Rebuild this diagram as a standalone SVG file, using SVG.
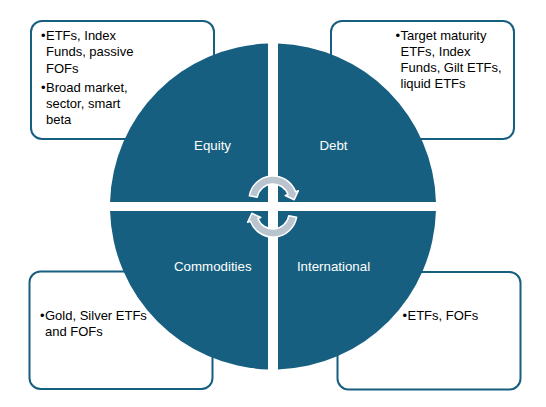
<svg xmlns="http://www.w3.org/2000/svg" xmlns:xlink="http://www.w3.org/1999/xlink" width="546" height="407" viewBox="0 0 546 407">
<style>
.box{fill:#fff;stroke:#175F80;stroke-width:2}
.quad{fill:#175F80}
.lbl{font-family:"Liberation Sans",Arial,sans-serif;font-size:13.3px;fill:#fff;text-anchor:middle}
.txt{font-family:"Liberation Sans",Arial,sans-serif;font-size:13px;fill:#000}
.arrow{fill:#B9C4CF;stroke:#fff;stroke-width:1.5;stroke-linejoin:round}
</style>
<defs>
<path id="cyc" class="arrow" d="M249.36,195.83 A24,24 0 0 1 295.55,191.79 L298.37,190.77 L294.18,199.74 L285.22,195.55 L288.04,194.53 A16,16 0 0 0 257.24,197.22 Z"/>
</defs>
<rect width="546" height="407" fill="#fff"/>
<g id="box-equity">
<rect class="box" x="31" y="21" width="183" height="118" rx="11"/>
<text class="txt"><tspan x="41" y="40">•</tspan><tspan x="46" y="40">ETFs, Index</tspan><tspan x="46" y="56.4">Funds, passive</tspan><tspan x="46" y="72.7">FOFs</tspan></text>
<text class="txt"><tspan x="41" y="91.6">•</tspan><tspan x="46" y="91.6">Broad market,</tspan><tspan x="46" y="107.8">sector, smart</tspan><tspan x="46" y="124">beta</tspan></text>
</g>
<g id="box-debt">
<rect class="box" x="331" y="21" width="183" height="118" rx="11"/>
<text class="txt"><tspan x="395.5" y="39.5">•</tspan><tspan x="400.5" y="39.5">Target maturity</tspan><tspan x="400.5" y="55.8">ETFs, Index</tspan><tspan x="400.5" y="72.1">Funds, Gilt ETFs,</tspan><tspan x="400.5" y="88.4">liquid ETFs</tspan></text>
</g>
<g id="box-commodities">
<rect class="box" x="29.5" y="271.5" width="183" height="117.5" rx="11"/>
<text class="txt"><tspan x="40" y="320">•</tspan><tspan x="45" y="320">Gold, Silver ETFs</tspan><tspan x="45" y="336">and FOFs</tspan></text>
</g>
<g id="box-international">
<rect class="box" x="337.5" y="272" width="183" height="117.5" rx="11"/>
<text class="txt"><tspan x="402.5" y="320">•</tspan><tspan x="407.5" y="320">ETFs, FOFs</tspan></text>
</g>
<g id="equity">
<path class="quad" d="M268,202 L268,43.58 A163,163 0 0 0 110.06,202 Z"/>
<text class="lbl" x="212.5" y="149.5">Equity</text>
</g>
<g id="debt">
<path class="quad" d="M278,202 L278,43.58 A163,163 0 0 1 435.94,202 Z"/>
<text class="lbl" x="333.5" y="149.5">Debt</text>
</g>
<g id="commodities">
<path class="quad" d="M268,211 L268,369.42 A163,163 0 0 1 110.06,211 Z"/>
<text class="lbl" x="212.8" y="271">Commodities</text>
</g>
<g id="international">
<path class="quad" d="M278,211 L435.94,211 A163,163 0 0 1 278,369.42 Z"/>
<text class="lbl" x="333.5" y="271">International</text>
</g>
<g id="connectors">
<use xlink:href="#cyc"/>
<use xlink:href="#cyc" transform="rotate(180 273 206.5)"/>
</g>
</svg>
